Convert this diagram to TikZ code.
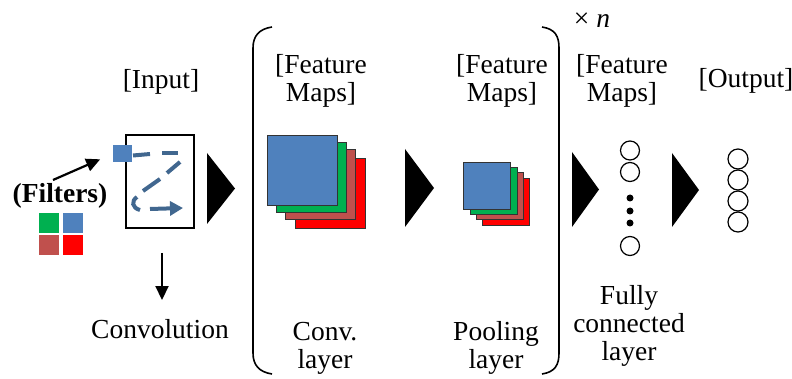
\documentclass[tikz,border=0pt]{standalone}
\usepackage{fontspec}
\setmainfont{Liberation Serif}
\newfontfamily\tms{Liberation Serif}
\usetikzlibrary{arrows.meta,calc}
\definecolor{oblue}{HTML}{4F81BD}
\definecolor{ogreen}{HTML}{00B050}
\definecolor{obrown}{HTML}{C0504D}
\definecolor{ored}{HTML}{FF0000}
\definecolor{dashblue}{HTML}{41678F}
\begin{document}
\begin{tikzpicture}[x=1pt,y=-1pt,
 lbl/.style={font=\tms\fontsize{27.5}{28}\selectfont, inner sep=0pt, align=center, anchor=base},
 sq/.style={draw=black!80, line width=0.8pt, minimum size=#1, inner sep=0pt, anchor=north west},
 fsq/.style={minimum size=#1, inner sep=0pt, anchor=north west},
 nrn/.style={circle, draw, line width=1.2pt, minimum size=#1, inner sep=0pt},
 dotn/.style={circle, fill, minimum size=7pt, inner sep=0pt},
 dsh/.style={dashblue, line width=4pt},
 blk/.style={line width=2.2pt, -{Triangle[length=14pt,width=13pt]}},
 paren/.style={line width=1.6pt}]
\useasboundingbox (0,0) rectangle (792,379);
\fill[white] (0,0) rectangle (792,379);

% brackets
\draw[paren] (272,27) .. controls (259,29) and (253,36) .. (253,48) -- (253,353) .. controls (253,365) and (259,372) .. (272,374);
\draw[paren] (542,27) .. controls (555,29) and (559,36) .. (559,48) -- (559,353) .. controls (559,365) and (555,372) .. (542,374);

% labels (base anchor = baseline of last line)
\node[lbl] (inp) at (161,89) {[Input]};
\node[lbl] (fm1) at (321,102) {[Feature\\Maps]};
\node[lbl] (fm2) at (502,102) {[Feature\\Maps]};
\node[lbl] (fm3) at (622,102) {[Feature\\Maps]};
\node[lbl] (outp) at (746,88) {[Output]};
\node[lbl] (xn) at (592,28) {× \textit{n}};
\node[lbl, font=\tms\bfseries\fontsize{27.5}{28}\selectfont] (filt) at (60,203) {(Filters)};
\node[lbl] (convo) at (160,338) {Convolution};
\node[lbl] (cl) at (325,368) {Conv.\\layer};
\node[lbl] (pl) at (496,368) {Pooling\\layer};
\node[lbl] (fc) at (629,360) {Fully\\connected\\layer};

% input box
\node[draw, line width=1.3pt, minimum width=68pt, minimum height=93pt, inner sep=0pt] (inbox) at (160,181.5) {};
\node[fsq=17pt, minimum width=19pt, fill=oblue] (ksq) at (113,145) {};
\draw[dsh] (133,155.5) -- (150,154);
\draw[dsh] (162,153) -- (178,153);
\draw[dsh] (180,162) -- (167,173);
\draw[dsh] (160,179) -- (143,191);
\draw[dsh] (137,197) .. controls (131,201) and (132,208) .. (140,210);
\draw[dsh, -{Triangle[length=13pt,width=14pt]}] (150,209) -- (183,208);

% filters
\node[fsq=20pt, fill=ogreen] (f1) at (39,213) {};
\node[fsq=20pt, fill=oblue] (f2) at (63,213) {};
\node[fsq=20pt, fill=obrown] (f3) at (39,235) {};
\node[fsq=20pt, fill=ored] (f4) at (63,235) {};
\coordinate (fa) at (53,180);
\draw[blk, shorten >=14pt] (fa) -- (ksq.west);
\coordinate (da) at (162,253);
\coordinate (db) at (162,300);
\draw[blk] (da) -- (db);

% big stack
\node[sq=70pt, fill=ored] (b4) at (295,158) {};
\node[sq=70pt, fill=obrown] (b3) at (285,149) {};
\node[sq=70pt, fill=ogreen] (b2) at (276,142) {};
\node[sq=70pt, fill=oblue] (b1) at (267,135) {};

% small stack
\node[sq=47pt, fill=ored] (s4) at (482,178) {};
\node[sq=47pt, fill=obrown] (s3) at (476,172) {};
\node[sq=47pt, fill=ogreen] (s2) at (470,167) {};
\node[sq=47pt, fill=oblue] (s1) at (463,162) {};

% triangles
\fill (207,153) -- (207,224) -- (235,188.5) -- cycle;
\fill (405,149) -- (405,227) -- (434,188) -- cycle;
\fill (572,152) -- (572,227) -- (599,189.5) -- cycle;
\fill (672,153) -- (672,227) -- (699,190) -- cycle;

% fully connected
\node[nrn=19pt] (c1) at (630,150.5) {};
\node[nrn=19pt] (c2) at (630,172) {};
\node[dotn] (d1) at (630,198) {};
\node[dotn] (d2) at (630,211) {};
\node[dotn] (d3) at (630,223) {};
\node[nrn=19pt] (c3) at (630,246) {};

% output
\node[nrn=20pt] (o1) at (738,159) {};
\node[nrn=20pt] (o2) at (738,180) {};
\node[nrn=20pt] (o3) at (738,201) {};
\node[nrn=20pt] (o4) at (738,222) {};
\end{tikzpicture}
\end{document}
